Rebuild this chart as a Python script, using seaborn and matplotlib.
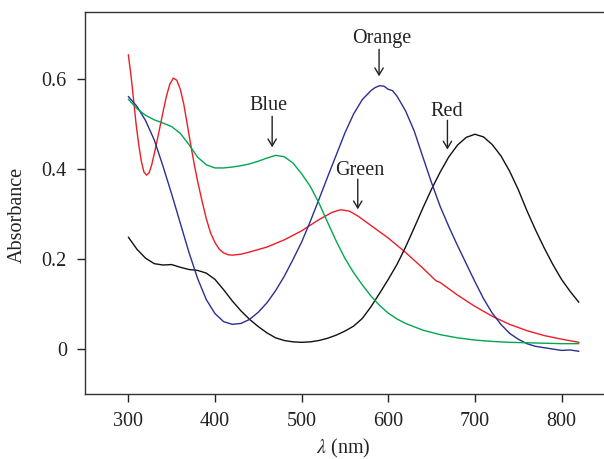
import numpy as np
import pandas as pd
import matplotlib
matplotlib.use('Agg')
import matplotlib.pyplot as plt
import seaborn as sns

sns.set_style('ticks')
plt.rcParams['font.family'] = ['Liberation Serif', 'DejaVu Serif']
plt.rcParams['mathtext.fontset'] = 'stix'

# "Green" sample (drawn in red)
red_wl = [300, 303, 306, 309, 312, 315, 318, 321, 324, 327, 330, 335, 340, 344, 348,
          352, 356, 360, 364, 368, 372, 376, 380, 385, 390, 395, 400, 405, 410, 415,
          420, 430, 440, 460, 480, 500, 520, 535, 545, 555, 565, 580, 600, 620, 640,
          655, 660, 680, 700, 720, 740, 760, 780, 800, 820]
red_abs = [0.655, 0.61, 0.556, 0.5, 0.455, 0.418, 0.394, 0.387, 0.392, 0.41, 0.435,
           0.48, 0.527, 0.563, 0.59, 0.603, 0.598, 0.578, 0.545, 0.5, 0.455, 0.412,
           0.373, 0.33, 0.29, 0.258, 0.237, 0.222, 0.214, 0.21, 0.209, 0.211, 0.216,
           0.227, 0.243, 0.263, 0.288, 0.304, 0.31, 0.307, 0.296, 0.275, 0.247, 0.215,
           0.18, 0.152, 0.148, 0.12, 0.095, 0.073, 0.055, 0.041, 0.03, 0.022, 0.015]

# "Red" sample (drawn in black)
black_wl = [300, 310, 320, 330, 340, 350, 360, 370, 380, 390, 400, 410, 420, 430, 440,
            450, 460, 470, 480, 490, 500, 510, 520, 530, 540, 550, 560, 570, 580, 590,
            600, 610, 620, 630, 640, 650, 660, 670, 680, 690, 700, 710, 720, 730, 740,
            750, 760, 770, 780, 790, 800, 810, 820]
black_abs = [0.249, 0.222, 0.202, 0.19, 0.187, 0.188, 0.182, 0.177, 0.175, 0.169, 0.155,
             0.132, 0.107, 0.085, 0.066, 0.05, 0.036, 0.025, 0.019, 0.016, 0.015, 0.016,
             0.019, 0.024, 0.031, 0.04, 0.051, 0.068, 0.094, 0.124, 0.155, 0.188, 0.227,
             0.27, 0.314, 0.356, 0.394, 0.428, 0.454, 0.471, 0.478, 0.472, 0.455, 0.43,
             0.396, 0.355, 0.308, 0.265, 0.225, 0.188, 0.155, 0.128, 0.104]

# "Orange" sample (drawn in blue)
blue_wl = [300, 310, 320, 330, 340, 350, 360, 370, 380, 390, 400, 410, 420, 430, 440,
           450, 460, 470, 480, 490, 500, 510, 520, 530, 540, 550, 560, 570, 580, 585,
           590, 595, 600, 605, 610, 620, 630, 640, 650, 660, 670, 680, 690, 700, 710,
           720, 730, 740, 750, 760, 770, 780, 790, 800, 810, 820]
blue_abs = [0.562, 0.54, 0.508, 0.465, 0.407, 0.345, 0.28, 0.215, 0.157, 0.11, 0.079,
            0.061, 0.055, 0.057, 0.066, 0.082, 0.103, 0.13, 0.162, 0.199, 0.238, 0.284,
            0.333, 0.383, 0.432, 0.481, 0.523, 0.555, 0.575, 0.582, 0.586, 0.585, 0.578,
            0.575, 0.563, 0.53, 0.485, 0.427, 0.37, 0.317, 0.272, 0.23, 0.19, 0.15,
            0.112, 0.08, 0.055, 0.035, 0.022, 0.012, 0.006, 0.003, 0.0, -0.003, -0.002,
            -0.005]

# "Blue" sample (drawn in green)
green_wl = [300, 310, 320, 330, 340, 350, 360, 370, 380, 390, 400, 410, 420, 430, 440,
            450, 460, 470, 480, 490, 500, 510, 520, 530, 540, 550, 560, 570, 580, 590,
            600, 610, 620, 640, 660, 680, 700, 720, 740, 760, 780, 800, 820]
green_abs = [0.556, 0.535, 0.52, 0.51, 0.503, 0.495, 0.48, 0.455, 0.427, 0.41, 0.403,
             0.403, 0.405, 0.408, 0.412, 0.418, 0.425, 0.431, 0.428, 0.414, 0.39, 0.362,
             0.325, 0.282, 0.24, 0.202, 0.17, 0.143, 0.118, 0.097, 0.08, 0.067, 0.057,
             0.042, 0.032, 0.025, 0.02, 0.017, 0.015, 0.014, 0.013, 0.012, 0.012]

labels = ['Blue', 'Orange', 'Red', 'Green']
label_xy = [(461.7, 0.531), (592.5, 0.682), (667.5, 0.518), (567.2, 0.387)]
arrow_x = [466, 589.4, 668.3, 564.8]
arrow_y = [(0.518, 0.449), (0.667, 0.607), (0.509, 0.444), (0.378, 0.311)]

fig = plt.figure(figsize=(6.04, 4.59), dpi=100)
ax = fig.add_axes([85 / 604, 65 / 459, 519 / 604, 382 / 459])

series = [
    (red_wl, red_abs, '#ee1c25'),
    (black_wl, black_abs, '#111111'),
    (blue_wl, blue_abs, '#2b2f8f'),
    (green_wl, green_abs, '#00a651'),
]
for wl, ab, color in series:
    sns.lineplot(x=wl, y=ab, ax=ax, color=color, lw=1.0)

for text, (tx, ty), ax_x, (y0, y1) in zip(labels, label_xy, arrow_x, arrow_y):
    ax.text(tx, ty, text, ha='center', va='baseline', fontsize=14.5, color='#222222')
    ax.annotate('', xy=(ax_x, y1), xytext=(ax_x, y0),
                arrowprops=dict(arrowstyle='->,head_length=0.5,head_width=0.3',
                                lw=1.0, color='#222222', shrinkA=0, shrinkB=0))

ax.set_xlim(250, 849)
ax.set_ylim(-0.1, 0.75)
ax.set_xticks([300, 400, 500, 600, 700, 800])
ax.set_yticks([0, 0.2, 0.4, 0.6])
ax.set_yticklabels(['0', '0.2', '0.4', '0.6'])
ax.set_xlabel(r'$\lambda$ (nm)', fontsize=14.5, color='#222222')
ax.set_ylabel('Absorbance', fontsize=14.5, color='#222222')
ax.xaxis.set_label_coords(0.497, -0.112)
ax.yaxis.set_label_coords(-0.112, 0.47)
ax.tick_params(direction='out', length=6, width=1.0, labelsize=14.5,
               colors='#222222', pad=7)
ax.spines['right'].set_visible(False)
for s in ['left', 'bottom', 'top']:
    ax.spines[s].set_linewidth(1.0)
    ax.spines[s].set_color('#333333')

plt.savefig('out.png', dpi=100)
plt.close()
